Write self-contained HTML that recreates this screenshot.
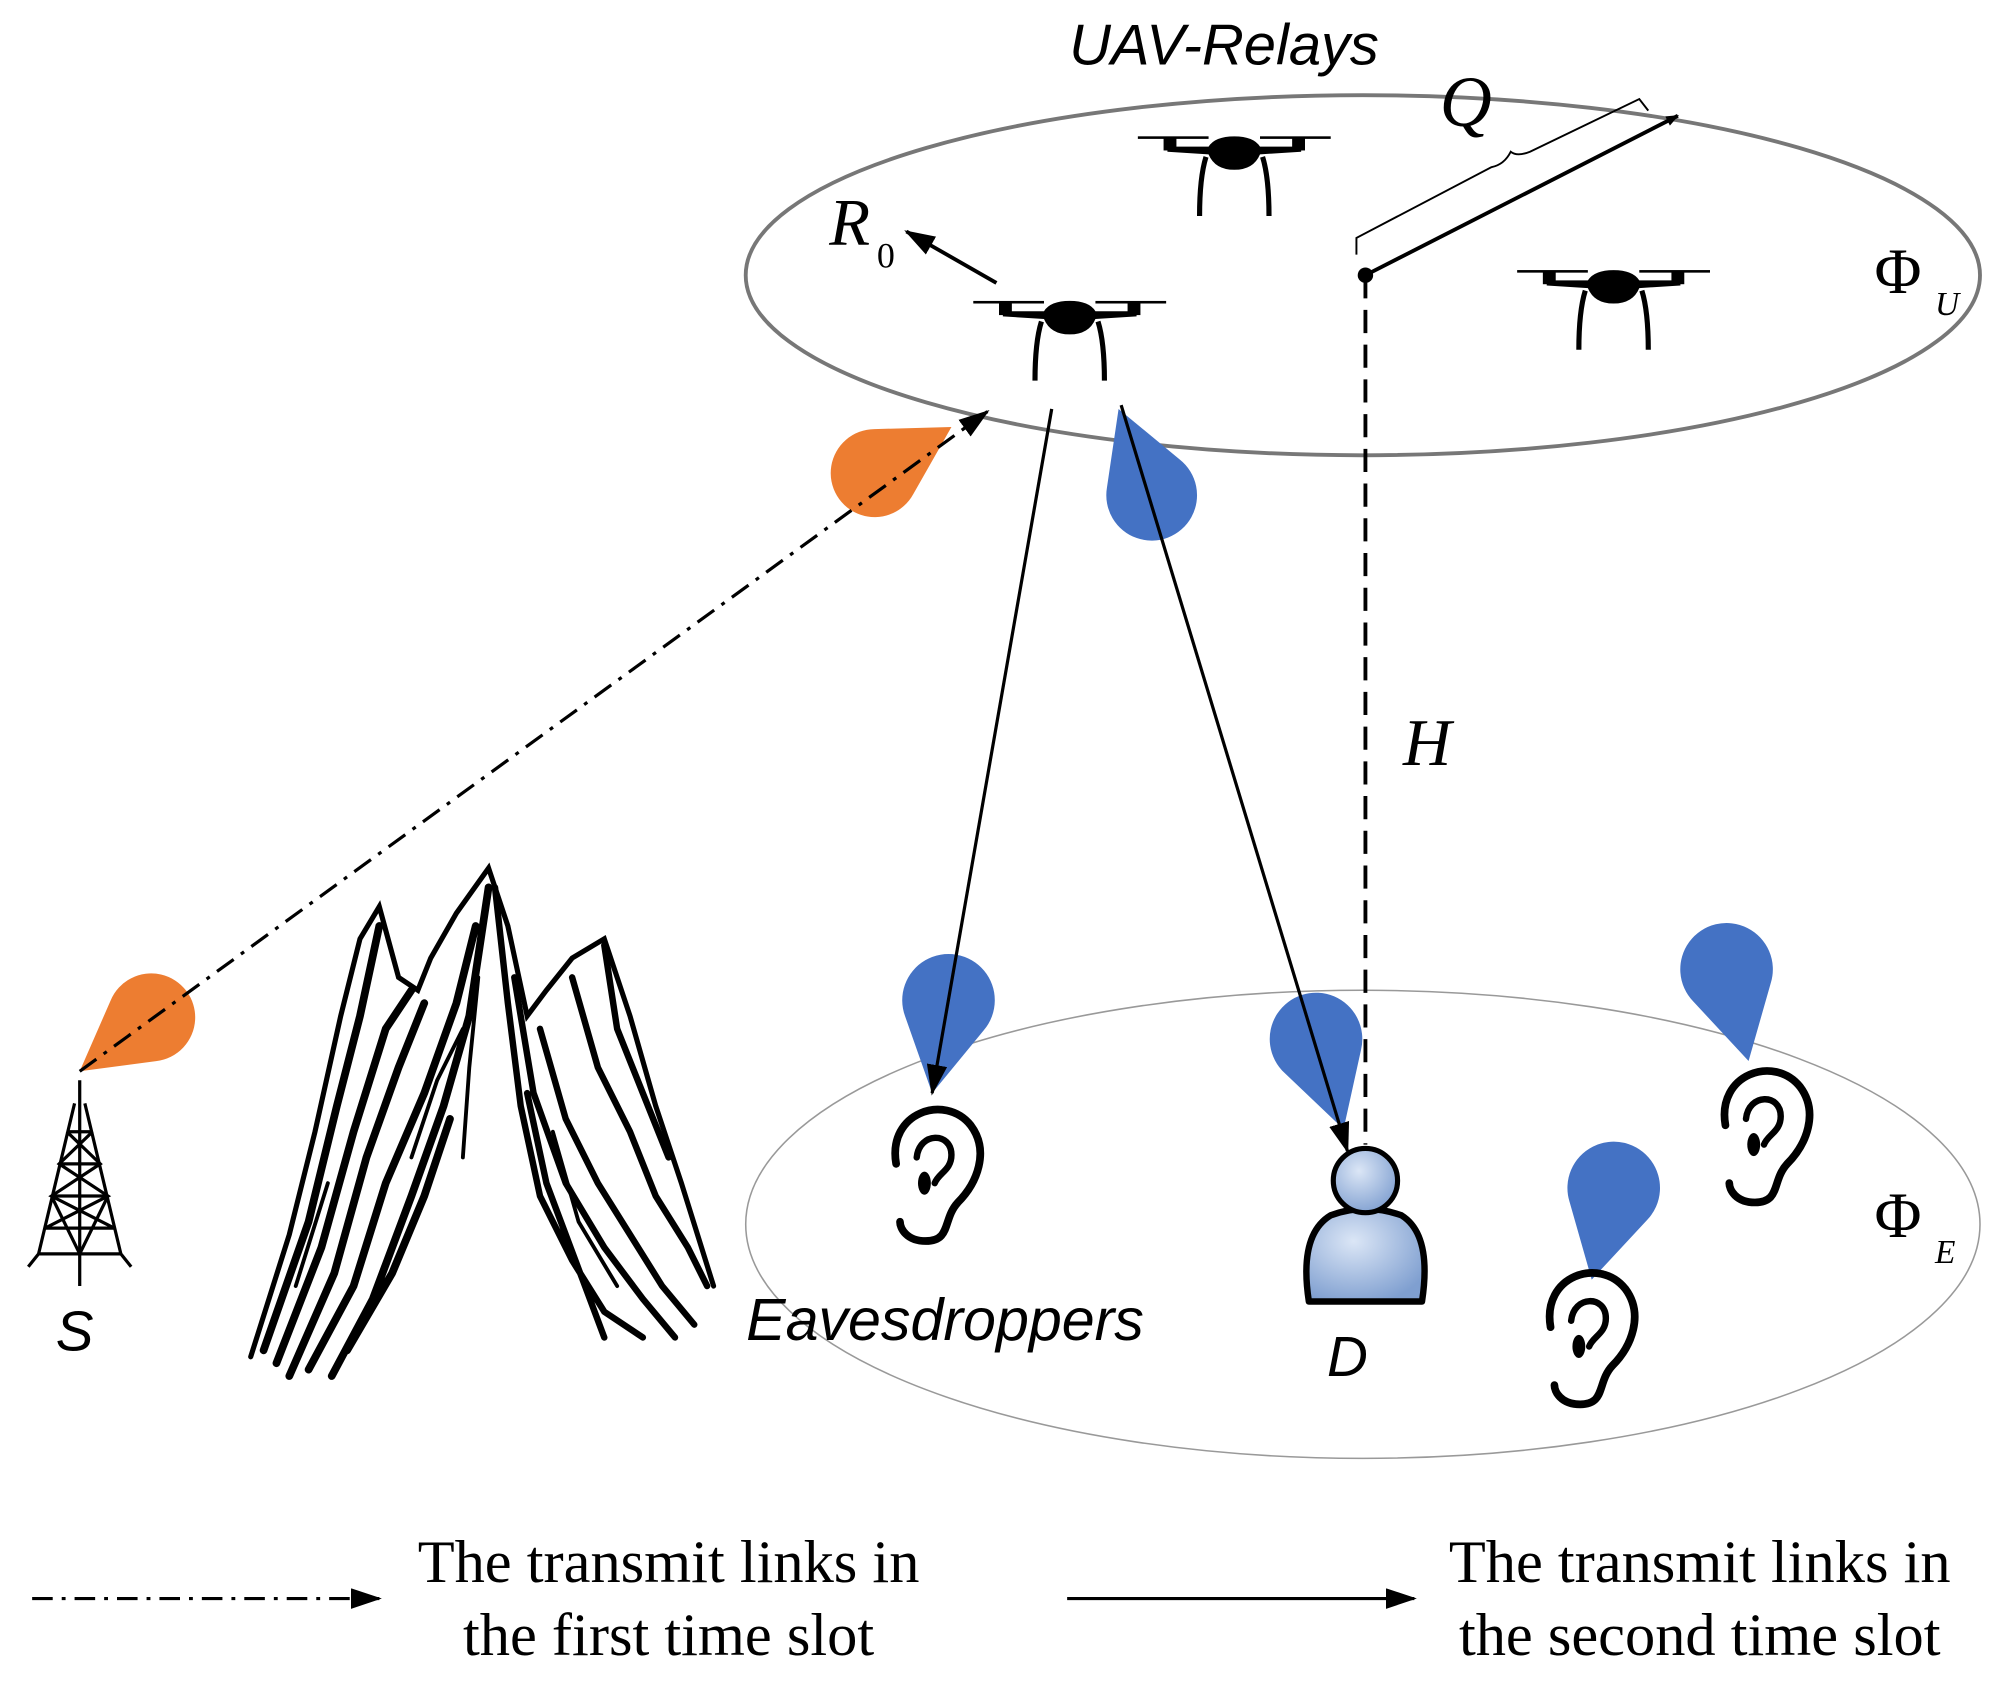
<!DOCTYPE html>
<html><head><meta charset="utf-8"><style>html,body{margin:0;padding:0;background:#fff}svg{display:block}</style></head>
<body>
<svg width="2007" height="1686" viewBox="0 0 1561 1311" preserveAspectRatio="none" xmlns="http://www.w3.org/2000/svg">
<defs>
<marker id="ah" markerWidth="10" markerHeight="8" refX="9" refY="4" orient="auto" markerUnits="userSpaceOnUse"><path d="M0,0 L10,4 L0,8 Z" fill="#000"/></marker>
<marker id="ahb" markerWidth="24" markerHeight="16" refX="22" refY="8" orient="auto" markerUnits="userSpaceOnUse"><path d="M0,0 L24,8 L0,16 Z" fill="#000"/></marker>
<path id="drop" d="M0,0 L-31,-55 A36,36 0 1 1 31,-55 Z"/>
<g id="drone">
<rect x="-75" y="-12" width="55" height="2"/><rect x="20" y="-12" width="55" height="2"/>
<rect x="-55" y="-11" width="10" height="10"/><rect x="45" y="-11" width="10" height="10"/>
<path d="M-52,-4 L-20,-4 Q-15,-12 0,-12 Q15,-12 20,-4 L52,-4 L52,0 L20,2 Q15,14 0,14 Q-15,14 -20,2 L-52,0 Z"/>
<path d="M-22,4 Q-27,20 -27,50" fill="none" stroke="#000" stroke-width="4"/>
<path d="M22,4 Q27,20 27,50" fill="none" stroke="#000" stroke-width="4"/>
</g>
<g id="ear" fill="none" stroke="#000" stroke-width="6" stroke-linecap="round">
<path d="M-28,-5 C-35,-45 10,-60 30,-35 C45,-15 35,10 20,25 C8,38 15,55 -5,55 C-20,55 -25,45 -25,40"/>
<path d="M-12,-10 C-10,-30 15,-30 15,-12 C15,0 5,2 2,10" stroke-width="5"/>
<ellipse cx="-6" cy="10" rx="5" ry="9" fill="#000" stroke="none"/>
</g>
</defs>

<ellipse cx="1060" cy="214" rx="480" ry="140" fill="none" stroke="#777" stroke-width="3"/>
<ellipse cx="1060" cy="952" rx="480" ry="182" fill="none" stroke="#999" stroke-width="1.2"/>

<text x="952" y="50" font-family="Liberation Sans, sans-serif" font-style="italic" font-size="45" text-anchor="middle">UAV-Relays</text>
<text x="1140" y="98" font-family="Liberation Serif, serif" font-style="italic" font-size="56" text-anchor="middle">Q</text>
<text x="1110" y="595" font-family="Liberation Serif, serif" font-style="italic" font-size="52" text-anchor="middle">H</text>
<text x="1458" y="228" font-family="Liberation Serif, serif" font-size="50">Φ</text>
<text x="1505" y="245" font-family="Liberation Serif, serif" font-style="italic" font-size="26">U</text>
<text x="1458" y="962" font-family="Liberation Serif, serif" font-size="50">Φ</text>
<text x="1505" y="982" font-family="Liberation Serif, serif" font-style="italic" font-size="26">E</text>
<text x="645" y="190" font-family="Liberation Serif, serif" font-style="italic" font-size="52">R</text>
<text x="682" y="208" font-family="Liberation Serif, serif" font-size="28">0</text>

<path d="M1055,198 L1055,185 L1160,130 Q1170,128 1175,118 Q1180,122 1190,118 L1275,77 L1282,86" fill="none" stroke="#000" stroke-width="1.5"/>
<line x1="1062" y1="214" x2="1305" y2="90" stroke="#000" stroke-width="3" marker-end="url(#ah)"/>
<circle cx="1062" cy="214" r="6"/>
<line x1="1062" y1="214" x2="1062" y2="890" stroke="#000" stroke-width="3" stroke-dasharray="18,9"/>
<line x1="775" y1="220" x2="705" y2="180" stroke="#000" stroke-width="3" marker-end="url(#ahb)"/>

<use href="#drone" x="960" y="118"/>
<use href="#drone" x="832" y="246"/>
<use href="#drone" x="1255" y="222"/>

<use href="#drop" fill="#ed7d31" transform="translate(740,332) rotate(-121) scale(0.95)"/>
<use href="#drop" fill="#ed7d31" transform="translate(62,833) rotate(53) scale(0.95)"/>
<use href="#drop" fill="#4472c4" transform="translate(870,318) rotate(159) scale(0.98)"/>
<use href="#drop" fill="#4472c4" transform="translate(725,850) rotate(10)"/>
<use href="#drop" fill="#4472c4" transform="translate(1045,878) rotate(-17)"/>
<use href="#drop" fill="#4472c4" transform="translate(1360,825) rotate(-13.5)"/>
<use href="#drop" fill="#4472c4" transform="translate(1238,995) rotate(13.5)"/>

<line x1="62" y1="833" x2="768" y2="320" stroke="#000" stroke-width="2.5" stroke-dasharray="16,7,3,7" marker-end="url(#ahb)"/>
<line x1="818" y1="318" x2="725" y2="850" stroke="#000" stroke-width="2.5" marker-end="url(#ahb)"/>
<line x1="872" y1="315" x2="1048" y2="895" stroke="#000" stroke-width="2.5" marker-end="url(#ahb)"/>

<use href="#ear" x="725" y="910"/>
<use href="#ear" x="1370" y="880"/>
<use href="#ear" x="1234" y="1037"/>

<defs><radialGradient id="pg" cx="0.4" cy="0.35" r="0.7"><stop offset="0" stop-color="#dbe6f6"/><stop offset="1" stop-color="#7f9fd0"/></radialGradient></defs>
<path d="M1018,1012 Q1010,960 1035,945 Q1062,935 1090,945 Q1114,960 1106,1012 Z" fill="url(#pg)" stroke="#000" stroke-width="5" stroke-linejoin="round"/>
<circle cx="1062" cy="918" r="25" fill="url(#pg)" stroke="#000" stroke-width="4"/>

<g stroke="#000" stroke-width="2.5" fill="none">
<line x1="62" y1="840" x2="62" y2="1000"/>
<path d="M58,858 L30,975 M66,858 L94,975 M22,985 L30,975 L94,975 L102,985"/>
<path d="M52,880 L72,880 M46,905 L78,905 M40,930 L84,930 M35,955 L89,955"/>
<path d="M52,880 L78,905 L40,930 L89,955 M72,880 L46,905 L84,930 L35,955 M40,930 L62,975 L84,930"/>
</g>
<text x="58" y="1050" font-family="Liberation Sans, sans-serif" font-style="italic" font-size="44" text-anchor="middle">S</text>
<text x="1048" y="1070" font-family="Liberation Sans, sans-serif" font-style="italic" font-size="44" text-anchor="middle">D</text>
<text x="735" y="1042" font-family="Liberation Sans, sans-serif" font-style="italic" font-size="46" text-anchor="middle">Eavesdroppers</text>

<g fill="none" stroke="#000" stroke-linecap="round">
<path d="M195,1055 L225,960 L245,880 L265,790 L280,730 L295,705 L310,760 L325,770 L335,745 L355,710 L380,675 L395,720 L410,790 L425,770 L445,745 L470,730 L490,790 L510,860 L530,920 L555,1000" stroke-width="4"/>
<path d="M205,1050 L240,950 L262,860 L280,790 L295,720 M215,1060 L250,970 L275,880 L300,800 L320,770 M225,1070 L260,990 L285,900 L310,830 L330,780 M240,1065 L275,1000 L300,920 L330,850 L355,780 L370,720 M258,1070 L290,1010 L320,930 L345,860 L365,790 L380,690 M270,1050 L305,990 L330,930 L350,870" stroke-width="6"/>
<path d="M385,690 L395,780 L405,860 L420,930 L445,980 L470,1020 L500,1040 M400,760 L415,850 L440,920 L470,970 L500,1010 L525,1040 M420,800 L440,870 L465,920 L490,960 L515,1000 L540,1030 M445,760 L465,830 L490,880 L510,930 L535,970 L550,1000 M470,735 L480,800 L500,850 L520,900 M410,850 L425,920 L455,1000 L470,1040" stroke-width="5"/>
<path d="M230,1000 L255,920 M320,900 L340,840 L360,800 M360,900 L365,830 L372,760 M430,880 L450,950 L480,1000" stroke-width="3"/>
</g>

<line x1="25" y1="1243" x2="295" y2="1243" stroke="#000" stroke-width="2.5" stroke-dasharray="16,7,3,7" marker-end="url(#ahb)"/>
<line x1="830" y1="1243" x2="1100" y2="1243" stroke="#000" stroke-width="2.5" marker-end="url(#ahb)"/>
<g font-family="Liberation Serif, serif" font-size="47" text-anchor="middle">
<text x="520" y="1230">The transmit links in</text>
<text x="520" y="1287">the first time slot</text>
<text x="1322" y="1230">The transmit links in</text>
<text x="1322" y="1287">the second time slot</text>
</g>
</svg>
</body></html>
